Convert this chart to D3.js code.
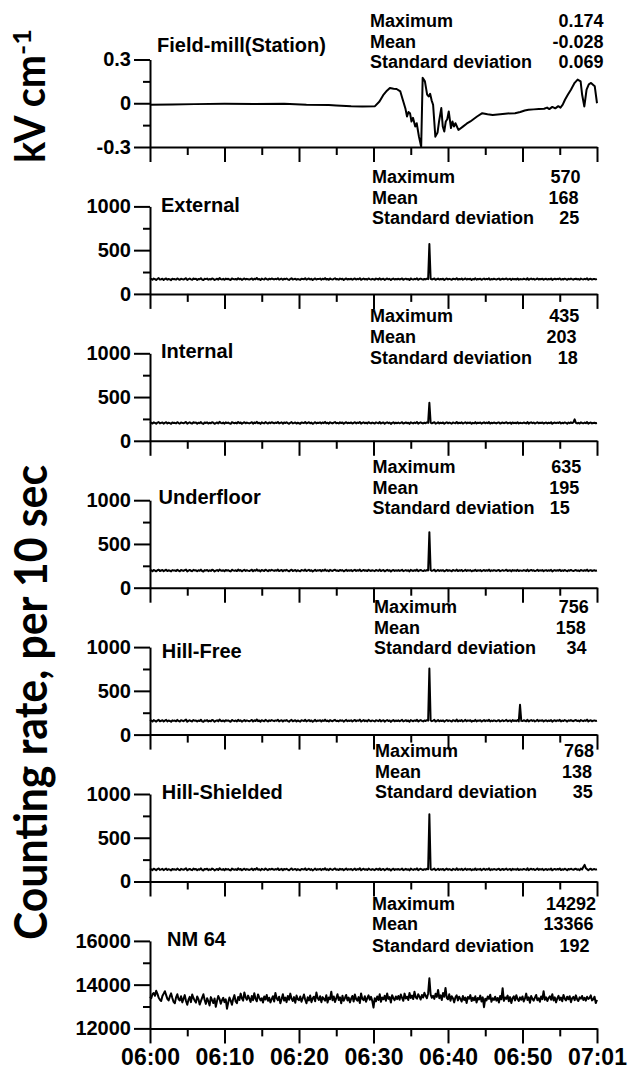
<!DOCTYPE html>
<html>
<head>
<meta charset="utf-8">
<script src="https://cdn.jsdelivr.net/npm/d3@7"></script>
<style>
  html, body { margin: 0; padding: 0; background: #fff; }
  svg { display: block; }
  text { fill: #000; }
</style>
</head>
<body>
<svg id="chart" width="631" height="1070"></svg>
<script>
// ---------------- DATA ----------------
const X_TICK_VALUES = [0, 10, 20, 30, 40, 50, 60];            // minutes after 06:00
const X_TICK_LABELS = ["06:00", "06:10", "06:20", "06:30", "06:40", "06:50", "07:01"];
const X_MINOR_TICKS = [5, 15, 25, 35, 45, 55];

const PANEL_NAMES = ["Field-mill(Station)", "External", "Internal", "Underfloor", "Hill-Free", "Hill-Shielded", "NM 64"];
const STAT_NAMES = ["Maximum", "Mean", "Standard deviation"];
const STAT_VALUES = [
  ["0.174", "-0.028", "0.069"],
  ["570", "168", "25"],
  ["435", "203", "18"],
  ["635", "195", "15"],
  ["756", "158", "34"],
  ["768", "138", "35"],
  ["14292", "13366", "192"]
];

const FIELD_Y_TICKS = [-0.3, 0, 0.3];
const FIELD_Y_LABELS = ["-0.3", "0", "0.3"];
const FIELD_Y_MINOR = [-0.15, 0.15];
const COUNT_Y_TICKS = [0, 500, 1000];
const COUNT_Y_MINOR = [250, 750];
const NM_Y_TICKS = [12000, 14000, 16000];
const NM_Y_MINOR = [13000, 15000];

// Field mill (kV/cm), read at irregular times (minutes after 06:00)
const fmTime = [0, 3, 6, 10, 14, 18, 21, 24, 25, 27, 28.5, 30.2, 30.8, 31.3, 31.8, 32.2, 32.7, 33.1, 33.6, 34.0,
  34.3, 34.5, 34.7, 34.9, 35.1, 35.3, 35.6, 35.8, 36.1, 36.4, 36.6, 36.9, 37.2, 37.4, 37.6, 37.8, 38.0, 38.3, 38.6, 38.8,
  39.1, 39.3, 39.5, 39.7, 39.9, 40.1, 40.4, 40.6, 40.8, 41.0, 41.4, 42.0, 42.5, 43.0, 43.9, 44.6, 45.3, 46.0, 47.0, 48.0,
  49.0, 49.7, 50.3, 50.8, 51.5, 52.2, 52.9, 53.3, 53.6, 54.0, 54.4, 54.8, 55.1, 55.4, 55.7, 56.1, 56.5, 57.0, 57.4, 57.8,
  58.0, 58.3, 58.6, 58.9, 59.2, 59.5, 59.7, 60.0];
const fmValue = [-0.010, -0.008, -0.006, -0.004, -0.005, -0.004, -0.010, -0.012, -0.015, -0.020,
  -0.022, -0.020, 0.012, 0.055, 0.086, 0.105, 0.100, 0.098, 0.081, 0.012,
  -0.040, -0.091, -0.060, -0.068, -0.125, -0.100, -0.160, -0.137, -0.229, -0.298,
  0.174, 0.150, 0.059, 0.047, 0.065, 0.020, -0.010, -0.229, -0.200, -0.125,
  -0.033, -0.160, -0.194, -0.125, -0.110, -0.056, -0.170, -0.125, -0.160, -0.137,
  -0.183, -0.160, -0.140, -0.125, -0.091, -0.068, -0.075, -0.080, -0.075, -0.070,
  -0.068, -0.060, -0.050, -0.045, -0.042, -0.040, -0.038, -0.030, -0.040, -0.025,
  -0.035, -0.020, -0.030, -0.010, 0.024, 0.060, 0.093, 0.140, 0.162, 0.150,
  0.060, -0.022, 0.093, 0.130, 0.139, 0.125, 0.116, 0.000];

// Counting rates per 10 s, one sample every 10 s from 06:00 to 07:00 (361 samples)
const SAMPLE_STEP_MIN = 1 / 6;
const external = [
  166,171,162,175,169,158,172,180,164,167,173,160,170,176,163,171,166,157,174,168,
  170,163,177,167,161,174,169,164,172,179,159,168,175,166,162,176,169,173,160,171,
  167,178,164,158,173,169,175,162,170,165,177,171,159,167,174,163,181,169,165,172,
  161,175,168,173,164,159,177,170,166,171,163,179,167,174,160,169,176,165,172,168,
  164,170,177,161,173,167,182,166,171,159,175,169,164,178,170,162,173,167,176,171,
  165,172,168,179,163,170,175,161,173,168,176,167,160,171,178,164,169,174,162,170,
  166,160,174,171,167,179,163,170,176,165,172,159,168,177,164,171,169,175,162,173,
  167,180,165,171,161,176,169,164,172,178,166,170,163,175,168,173,160,169,177,165,
  171,167,174,162,170,176,164,172,168,179,161,169,175,166,171,163,177,169,164,172,
  168,162,175,170,165,178,163,171,174,160,169,176,167,172,158,170,175,164,171,166,
  173,165,170,177,162,168,174,166,171,159,176,169,164,172,167,178,161,170,175,168,
  163,171,166,174,169,570,172,165,170,177,161,168,175,164,171,167,173,160,169,176,
  165,172,168,161,174,170,166,179,163,171,167,175,162,169,176,164,172,168,173,160,
  170,166,177,163,171,168,174,161,169,175,165,172,167,178,162,170,166,173,169,164,
  171,175,162,168,173,166,170,177,164,169,172,160,174,167,171,165,176,163,170,168,
  166,173,169,164,178,161,170,175,167,172,163,169,176,165,171,168,174,162,170,173,
  164,171,167,176,160,169,173,166,172,168,177,163,170,165,174,169,161,172,167,175,
  168,163,171,174,166,170,162,175,169,165,172,167,178,161,170,173,164,169,171,166,
  169];
const internal = [
  201,207,197,211,204,195,208,214,199,205,210,196,206,213,198,207,202,194,209,204,
  206,199,213,203,196,210,205,200,208,215,195,204,211,201,197,212,205,208,196,207,
  202,214,199,193,209,204,211,197,206,200,213,207,194,202,210,198,216,205,200,208,
  196,211,203,208,199,194,213,206,201,207,198,215,202,209,195,205,212,200,208,203,
  199,206,213,196,209,202,217,201,207,194,211,204,199,214,205,197,209,202,212,206,
  200,208,203,215,198,205,211,196,209,203,212,202,195,206,214,199,204,210,197,207,
  201,195,210,206,202,215,198,205,212,200,208,194,203,213,199,207,204,211,197,209,
  202,216,200,206,196,212,204,199,208,214,201,205,198,211,203,209,195,204,213,200,
  207,202,210,197,205,212,199,208,203,215,196,204,211,201,207,198,213,204,199,208,
  203,197,211,205,200,214,198,206,210,195,204,212,202,208,193,205,211,199,207,201,
  209,200,205,213,197,203,210,201,207,194,212,204,199,208,202,215,196,205,211,203,
  198,207,201,210,205,435,208,200,206,213,196,203,211,199,207,202,209,195,204,212,
  200,208,203,196,210,205,201,215,198,207,202,211,197,204,212,199,208,203,209,195,
  205,201,213,198,207,203,210,196,204,211,200,208,202,214,197,206,201,209,204,199,
  207,211,197,203,209,201,206,213,199,204,208,195,210,202,207,200,212,198,206,203,
  201,209,204,199,214,196,206,211,202,208,198,204,212,200,207,203,210,197,205,209,
  199,207,202,212,195,204,209,201,208,203,213,198,206,200,210,204,196,208,202,211,
  203,210,245,205,198,206,197,211,204,200,208,202,214,196,205,209,199,204,207,201,
  204];
const underfloor = [
  193,199,188,203,196,187,200,206,191,197,202,189,198,205,190,199,194,186,201,196,
  198,191,205,195,188,202,197,192,200,207,187,196,203,193,189,204,197,200,188,199,
  194,206,191,185,201,196,203,189,198,192,205,199,186,194,202,190,208,197,192,200,
  188,203,195,200,191,186,205,198,193,199,190,207,194,201,187,197,204,192,200,195,
  191,198,205,188,201,194,209,193,199,186,203,196,191,206,197,189,201,194,204,198,
  192,200,195,207,190,197,203,188,201,195,204,194,187,198,206,191,196,202,189,199,
  193,187,202,198,194,207,190,197,204,192,200,186,195,205,191,199,196,203,189,201,
  194,208,192,198,188,204,196,191,200,206,193,197,190,203,195,201,187,196,205,192,
  199,194,202,189,197,204,191,200,195,207,188,196,203,193,199,190,205,196,191,200,
  195,189,203,197,192,206,190,198,202,187,196,204,194,200,185,197,203,191,199,193,
  201,192,197,205,189,195,202,193,199,186,204,196,191,200,194,207,188,197,203,195,
  190,199,193,202,197,635,200,192,198,205,188,195,203,191,199,194,201,187,196,204,
  192,200,195,188,202,197,193,207,190,199,194,203,189,196,204,191,200,195,201,187,
  197,193,205,190,199,195,202,188,196,203,192,200,194,206,189,198,193,201,196,191,
  199,203,189,195,201,193,198,205,191,196,200,187,202,194,199,192,204,190,198,195,
  193,201,196,191,206,188,198,203,194,200,190,196,204,192,199,195,202,189,197,201,
  191,199,194,204,187,196,201,193,200,195,205,190,198,192,202,196,188,200,194,203,
  195,190,198,202,193,197,189,203,196,192,200,194,206,188,197,201,191,196,199,193,
  196];
const hillFree = [
  154,161,149,166,158,148,162,169,152,158,165,150,160,168,151,161,156,147,163,157,
  160,152,168,156,149,165,159,153,162,171,148,157,164,155,150,167,158,162,149,160,
  155,170,152,146,163,158,166,150,159,153,168,161,147,156,164,151,172,158,153,162,
  149,165,157,162,152,147,167,160,154,161,151,170,156,163,148,158,166,153,162,157,
  152,159,167,149,163,155,173,154,161,147,165,158,152,169,159,150,163,156,166,160,
  153,162,157,170,151,159,165,149,163,157,166,155,148,160,169,152,158,164,150,161,
  155,148,164,160,156,170,151,159,166,153,162,147,157,168,152,161,158,165,150,163,
  156,171,153,160,149,166,158,152,162,169,154,159,151,165,157,163,148,158,168,153,
  161,156,164,150,159,167,152,162,157,171,149,158,166,154,161,151,168,158,152,162,
  157,150,165,160,154,169,151,160,164,148,158,167,155,162,146,159,166,152,161,155,
  163,153,159,168,150,157,165,154,161,147,167,158,152,162,156,170,149,159,166,157,
  151,161,155,165,159,756,162,153,160,168,149,157,166,152,161,155,163,148,158,167,
  154,162,157,149,165,159,153,171,151,161,155,166,150,158,168,152,162,157,164,148,
  159,154,169,151,161,157,165,149,158,166,153,162,156,170,150,160,154,163,158,152,
  161,166,150,157,164,153,160,168,152,158,163,148,165,156,161,154,167,151,340,157,
  155,164,158,152,170,149,160,166,156,163,151,158,168,153,162,157,165,150,159,164,
  152,161,156,167,148,158,164,154,163,157,169,151,160,155,166,159,149,163,157,166,
  158,153,162,166,155,160,150,167,158,154,163,157,171,149,160,165,153,159,162,156,
  160];
const hillShielded = [
  134,141,129,146,138,128,142,149,132,138,145,130,140,148,131,141,136,127,143,137,
  140,132,148,136,129,145,139,133,142,151,128,137,144,135,130,147,138,142,129,140,
  135,150,132,126,143,138,146,130,139,133,148,141,127,136,144,131,152,138,133,142,
  129,145,137,142,132,127,147,140,134,141,131,150,136,143,128,138,146,133,142,137,
  132,139,147,129,143,135,153,134,141,127,145,138,132,149,139,130,143,136,146,140,
  133,142,137,150,131,139,145,129,143,137,146,135,128,140,149,132,138,144,130,141,
  135,128,144,140,136,150,131,139,146,133,142,127,137,148,132,141,138,145,130,143,
  136,151,133,140,129,146,138,132,142,149,134,139,131,145,137,143,128,138,148,133,
  141,136,144,130,139,147,132,142,137,151,129,138,146,134,141,131,148,138,132,142,
  137,130,145,140,134,149,131,140,144,128,138,147,135,142,126,139,146,132,141,135,
  143,133,139,148,130,137,145,134,141,127,147,138,132,142,136,150,129,139,146,137,
  131,141,135,145,139,768,142,133,140,148,129,137,146,132,141,135,143,128,138,147,
  134,142,137,129,145,139,133,151,131,141,135,146,130,138,148,132,142,137,144,128,
  139,134,149,131,141,137,145,129,138,146,133,142,136,150,130,140,134,143,138,132,
  141,146,130,137,144,133,140,148,132,138,143,128,145,136,141,134,147,131,139,137,
  135,144,138,132,150,129,140,146,136,143,131,138,148,133,142,137,145,130,139,144,
  132,141,136,147,128,138,144,134,143,137,149,131,140,135,146,139,129,143,137,146,
  138,133,142,146,135,140,130,147,138,165,190,152,141,129,140,145,133,139,142,136,
  140];
const nm64 = [
  13450,13380,13560,13620,13490,13720,13580,13400,13310,13250,13480,13590,13700,13520,13350,13280,13460,13600,13390,13210,
  13150,13420,13560,13330,13280,13470,13190,13360,13520,13250,13080,13310,13440,13200,13550,13390,13270,13180,13460,13340,
  13090,13250,13410,13560,13300,13120,13380,13240,13050,13430,13290,13160,13370,12990,13260,13480,13350,13130,13290,13400,
  13200,13330,12900,13180,13410,13270,13080,13350,13520,13230,13150,13440,13300,13590,13380,13270,13640,13420,13310,13500,
  13360,13210,13480,13290,13610,13350,13240,13550,13410,13280,13380,13180,13460,13320,13530,13260,13400,13190,13340,13470,
  13230,13620,13380,13290,13450,13150,13340,13560,13270,13410,13200,13480,13310,13590,13360,13250,13430,13170,13500,13330,
  13290,13460,13220,13380,13550,13310,13150,13420,13280,13500,13200,13370,13450,13240,13640,13390,13300,13470,13200,13430,
  13350,13270,13520,13180,13410,13330,13680,13290,13460,13210,13380,13560,13300,13420,13150,13490,13260,13390,13530,13280,
  13410,13190,13360,13480,13230,13550,13340,13270,13430,13160,13600,13350,13290,13470,13220,13380,13510,13310,13440,13260,
  12950,13380,13240,13460,13300,13560,13220,13410,13330,13490,13260,13600,13350,13430,13180,13520,13380,13290,13460,13340,
  13480,13310,13550,13400,13260,13590,13370,13450,13300,13620,13390,13500,13340,13680,13420,13360,13560,13450,13320,13530,
  13410,13630,13480,13380,13600,14292,13550,13400,13490,13350,13580,13440,13760,13380,13510,13300,13620,13450,13850,13400,
  13330,13560,13260,13470,13380,13190,13420,13510,13280,13450,13350,13230,13480,13300,13410,13160,13440,13360,13520,13250,
  13400,13290,13470,13180,13390,13320,13500,13230,13420,12970,13360,13280,13460,13350,13540,13220,13380,13300,13450,13270,
  13390,13180,13480,13330,13840,13260,13410,13350,13500,13240,13430,13160,13380,13470,13280,13520,13340,13250,13420,13310,
  13460,13230,13370,13590,13300,13420,13170,13480,13350,13270,13410,13530,13290,13380,13220,13460,13340,13700,13310,13420,
  13250,13390,13470,13310,13560,13280,13420,13190,13370,13490,13300,13410,13240,13530,13360,13280,13450,13330,13470,13200,
  13380,13440,13290,13510,13330,13250,13420,13360,13480,13300,13400,13270,13450,13350,13390,13510,13280,13330,13450,13160,
  13300];

// ---------------- LAYOUT ----------------
const X0 = 150, X1 = 597;
const BASE0 = 147, PANEL_STEP = 146.9, PANEL_H = 87.5;
const FONT = "'Liberation Sans', Arial, sans-serif";
const BIG_FONT = "Lato, 'Open Sans', sans-serif";

// per-panel text placement (offsets relative to panel base line)
const LAYOUT = [
  { lx: 157, ly: -102, sx: 370, sy: [-127, -106, -86], vr: [603.6, 603.6, 603.6] },
  { lx: 161, ly: -89,  sx: 372, sy: [-117, -96, -76],  vr: [580.6, 578.6, 579.4] },
  { lx: 161, ly: -90,  sx: 370, sy: [-125, -104, -83], vr: [579.4, 576.6, 577.8] },
  { lx: 158.5, ly: -91, sx: 372.5, sy: [-121, -100, -80], vr: [581.4, 579.4, 569.7] },
  { lx: 161.7, ly: -84, sx: 374, sy: [-128, -107, -87], vr: [588.7, 585.8, 586.6] },
  { lx: 161.7, ly: -90, sx: 375, sy: [-131, -110, -90], vr: [594, 592, 592.7] },
  { lx: 167, ly: -89,  sx: 372, sy: [-125, -105, -83], vr: [596, 593.5, 589.5] }
];

const svg = d3.select("#chart");
const x = d3.scaleLinear().domain([0, 60]).range([X0, X1]);

const countTimes = d3.range(external.length).map(i => i * SAMPLE_STEP_MIN);
const panels = [
  { name: PANEL_NAMES[0], domain: [-0.3, 0.3], ticks: FIELD_Y_TICKS, labels: FIELD_Y_LABELS, minor: FIELD_Y_MINOR, t: fmTime, v: fmValue },
  { name: PANEL_NAMES[1], domain: [0, 1000], ticks: COUNT_Y_TICKS, labels: COUNT_Y_TICKS.map(String), minor: COUNT_Y_MINOR, t: countTimes, v: external },
  { name: PANEL_NAMES[2], domain: [0, 1000], ticks: COUNT_Y_TICKS, labels: COUNT_Y_TICKS.map(String), minor: COUNT_Y_MINOR, t: countTimes, v: internal },
  { name: PANEL_NAMES[3], domain: [0, 1000], ticks: COUNT_Y_TICKS, labels: COUNT_Y_TICKS.map(String), minor: COUNT_Y_MINOR, t: countTimes, v: underfloor },
  { name: PANEL_NAMES[4], domain: [0, 1000], ticks: COUNT_Y_TICKS, labels: COUNT_Y_TICKS.map(String), minor: COUNT_Y_MINOR, t: countTimes, v: hillFree },
  { name: PANEL_NAMES[5], domain: [0, 1000], ticks: COUNT_Y_TICKS, labels: COUNT_Y_TICKS.map(String), minor: COUNT_Y_MINOR, t: countTimes, v: hillShielded },
  { name: PANEL_NAMES[6], domain: [12000, 16000], ticks: NM_Y_TICKS, labels: NM_Y_TICKS.map(String), minor: NM_Y_MINOR, t: countTimes, v: nm64 }
];

function styleAxis(g) {
  g.attr("font-family", FONT).attr("font-weight", "bold");
  g.selectAll("path.domain").attr("stroke", "#000").attr("stroke-width", 2);
  g.selectAll(".tick line").attr("stroke", "#000").attr("stroke-width", 2);
  g.selectAll(".tick text").attr("fill", "#000");
}

panels.forEach((p, k) => {
  const base = BASE0 + PANEL_STEP * k;
  const lay = LAYOUT[k];
  const y = d3.scaleLinear().domain(p.domain).range([base, base - PANEL_H]);
  const g = svg.append("g");

  // data line
  const pts = p.t.map((t, i) => [t, p.v[i]]);
  g.append("path")
    .datum(pts)
    .attr("fill", "none")
    .attr("stroke", "#000")
    .attr("stroke-width", 2)
    .attr("stroke-linejoin", "round")
    .attr("d", d3.line().x(d => x(d[0])).y(d => y(d[1])));

  // x axis (major + minor)
  const xa = g.append("g").attr("transform", `translate(0,${base})`)
    .call(d3.axisBottom(x).tickValues(X_TICK_VALUES).tickSize(15).tickSizeOuter(0)
      .tickFormat((d, i) => k === panels.length - 1 ? X_TICK_LABELS[i] : ""));
  styleAxis(xa);
  xa.selectAll(".tick text").attr("font-size", 23).attr("dy", "0.8em");
  const xm = g.append("g").attr("transform", `translate(0,${base})`)
    .call(d3.axisBottom(x).tickValues(X_MINOR_TICKS).tickSize(8).tickSizeOuter(0).tickFormat(""));
  styleAxis(xm);
  xm.select("path.domain").remove();

  // y axis (major + minor)
  const ya = g.append("g").attr("transform", `translate(${X0},0)`)
    .call(d3.axisLeft(y).tickValues(p.ticks).tickSize(16).tickPadding(3).tickSizeOuter(0)
      .tickFormat((d, i) => p.labels[i]));
  styleAxis(ya);
  ya.selectAll(".tick text").attr("font-size", 20);
  const ym = g.append("g").attr("transform", `translate(${X0},0)`)
    .call(d3.axisLeft(y).tickValues(p.minor).tickSize(7).tickSizeOuter(0).tickFormat(""));
  styleAxis(ym);
  ym.select("path.domain").remove();

  // panel name
  g.append("text")
    .attr("x", lay.lx).attr("y", base + lay.ly + 7)
    .attr("font-family", FONT).attr("font-weight", "bold").attr("font-size", 20)
    .text(p.name);

  // statistics
  STAT_NAMES.forEach((s, j) => {
    g.append("text")
      .attr("x", lay.sx).attr("y", base + lay.sy[j] + 6.5)
      .attr("font-family", FONT).attr("font-weight", "bold").attr("font-size", 18)
      .text(s);
    g.append("text")
      .attr("x", lay.vr[j]).attr("y", base + lay.sy[j] + 6.5)
      .attr("text-anchor", "end")
      .attr("font-family", FONT).attr("font-weight", "bold").attr("font-size", 18)
      .text(STAT_VALUES[k][j]);
  });
});

// big axis titles
svg.append("text")
  .attr("transform", "translate(45,163) rotate(-90)")
  .attr("font-family", BIG_FONT).attr("font-weight", "bold").attr("font-size", 42)
  .attr("textLength", 108).attr("lengthAdjust", "spacingAndGlyphs")
  .text("kV cm");
svg.append("text")
  .attr("transform", "translate(31,55) rotate(-90)")
  .attr("font-family", BIG_FONT).attr("font-weight", "bold").attr("font-size", 25)
  .attr("textLength", 26).attr("lengthAdjust", "spacingAndGlyphs")
  .text("-1");
svg.append("text")
  .attr("transform", "translate(47,940) rotate(-90)")
  .attr("font-family", BIG_FONT).attr("font-weight", "bold").attr("font-size", 46)
  .attr("textLength", 475).attr("lengthAdjust", "spacingAndGlyphs")
  .text("Counting rate, per 10 sec");
</script>
</body>
</html>
